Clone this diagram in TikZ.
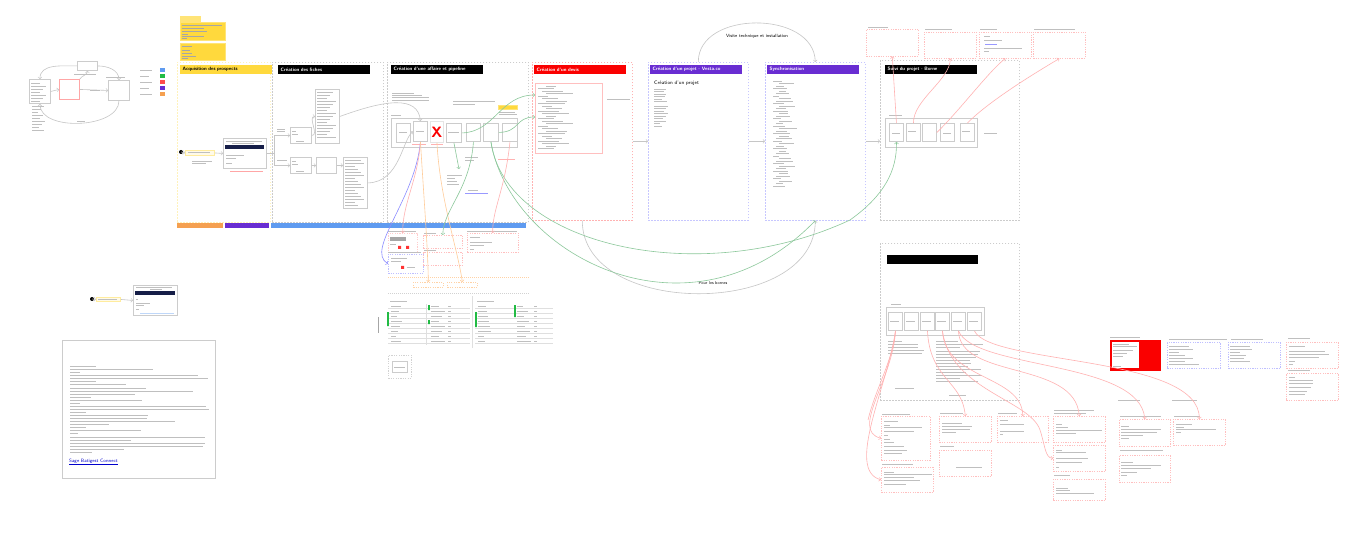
\documentclass[tikz,border=0pt]{standalone}
\usepackage{tikz}
\usetikzlibrary{positioning}

\definecolor{stickyY}{RGB}{255,217,61}
\definecolor{navy}{RGB}{22,30,72}
\definecolor{hdRed}{RGB}{250,0,0}
\definecolor{hdPurple}{RGB}{105,45,210}
\definecolor{barBlue}{RGB}{95,155,240}
\definecolor{barOrange}{RGB}{245,160,80}
\definecolor{barGreen}{RGB}{34,187,68}
\definecolor{lnGreen}{RGB}{140,200,155}

\tikzset{
  panel/.style={draw=gray!40, dash pattern=on 1.5pt off 1.5pt, line width=0.6pt, inner sep=0pt, anchor=north west},
  card/.style={draw=gray!40, line width=0.9pt, fill=white, inner sep=0pt, anchor=north west},
  pbox/.style={draw=red!25, dash pattern=on 1.2pt off 1.2pt, line width=0.6pt, inner sep=0pt, anchor=north west},
  bbox/.style={draw=blue!25, dash pattern=on 1.2pt off 1.2pt, line width=0.6pt, inner sep=0pt, anchor=north west},
  head/.style={anchor=north west, minimum height=9pt, text width=87pt, inner xsep=2.5pt, inner ysep=0pt,
    text=white, align=left, font=\fontsize{4.8}{5}\selectfont\sffamily\bfseries},
  txtline/.style={draw=gray!50, line width=0.8pt},
  link/.style={draw=gray!45, line width=0.6pt},
  gline/.style={draw=lnGreen, line width=0.6pt},
  rline/.style={draw=red!30, line width=0.6pt},
  sz/.style 2 args={minimum width=#1pt, minimum height=#2pt},
}
\newcommand{\tline}[3]{\draw[txtline] (#1,#2) -- ++(#3,0);}

\begin{document}
\begin{tikzpicture}[x=1pt,y=-1pt]
\useasboundingbox (0,0) rectangle (1347,556);
\fill[white] (0,0) rectangle (1347,556);

% mini flow top left
\node[card, sz={20}{9}] (mTop) at (77,61) {};
\node[card, sz={21}{24}] (mLeft) at (29,79) {};
\node[card, draw=red!35, sz={20}{20}] (mPink) at (59,79) {};
\node[card, sz={21}{20}] (mRight) at (108,80) {};
\draw[link,->] (mTop.west) to[out=180,in=90] (mLeft.north);
\draw[link,->] (mTop.east) to[out=0,in=90] (mRight.north);
\draw[link,->] (mPink.north east) to[out=60,in=-90] (mTop.south);
\draw[link,->] (mLeft.east) -- (mPink.west);
\draw[link,->] (mPink.east) -- (mRight.west);
\draw[link,->] (mRight.south) to[out=-90,in=-90,looseness=0.9] (mLeft.south);
\foreach \y in {83,86,...,101} {\tline{31}{\y}{{8+mod(\y*5,9)}}}
\foreach \y in {106,109,...,130} {\tline{32}{\y}{{6+mod(\y*7,8)}}}
\tline{74}{74}{22}
\tline{106}{77}{19}
\tline{90}{90}{10}
\tline{77}{121}{8}
% legend
\foreach \c [count=\i] in {barBlue,barGreen,red!70,hdPurple,barOrange}
  {\fill[\c] (160,{62+6*\i}) rectangle ++(4.5,4.5);
   \tline{140}{{64.5+6*\i}}{{9+mod(\i*3,6)}}}

% sticky notes
\node[card, draw=stickyY!70, fill=stickyY!70, sz={20}{5}] (nT) at (180,16) {};
\node[card, draw=stickyY!70, fill=stickyY, sz={45}{18}] (n1) at (180,22) {};
\node[card, draw=stickyY!70, fill=stickyY, sz={45}{17}] (n2) at (180,43) {};
\foreach \y/\l in {25/40,28/22,31/25,34/6,36/22,38/5} {\draw[gray!70, line width=0.5pt] (182,\y) -- ++(\l,0);}
\foreach \y/\l in {46/10,50/8,53/10,56/14,58/6} {\draw[gray!70, line width=0.5pt] (182,\y) -- ++(\l,0);}

% panels
\node[panel, draw=stickyY!35, sz={93}{160}] (pAcq) at (177,62) {};
\node[panel, sz={111}{160}] (pFiches) at (272,62) {};
\node[panel, sz={141}{160}] (pAffaire) at (387,62) {};
\node[panel, draw=red!30, sz={100}{158}] (pDevis) at (532,62) {};
\node[panel, draw=blue!22, sz={100}{158}] (pProjet) at (648,62) {};
\node[panel, draw=blue!22, sz={100}{158}] (pSync) at (765,62) {};
\node[panel, sz={139}{160}] (pSuivi) at (880,60) {};

\node[head, fill=stickyY, text=black] (hAcq) at (180,65) {Acquisition des prospects};
\node[head, fill=black] (hFiches) at (278,65) {Création des fiches};
\node[head, fill=black] (hAffaire) at (391,65) {Création d'une affaire et pipeline};
\node[head, fill=hdRed] (hDevis) at (534,65) {Création d'un devis};
\node[head, fill=hdPurple] (hProjet) at (650,65) {Création d'un projet - Vesta.co};
\node[head, fill=hdPurple] (hSync) at (767,65) {Synchronisation};
\node[head, fill=black] (hSuivi) at (885,65) {Suivi du projet - Borne};

% colour bars
\fill[barOrange] (177,223) rectangle (223,228);
\fill[hdPurple] (225,223) rectangle (269,228);
\fill[barBlue] (271,223) rectangle (526,228);

% acquisition
\fill (181,152) circle (2);
\node[card, draw=stickyY!50, fill=stickyY!12, sz={29}{5}] (lAcq) at (185,150) {};
\tline{188}{152.5}{22}
\tline{192}{161}{20}\tline{192}{163.5}{14}
\node[card, sz={43}{30}] (cAcq) at (223,138) {};
\fill[navy] (225,145) rectangle (264,149.5);
\tline{226}{141}{36}\tline{232}{143}{22}
\tline{226}{155}{18}\tline{226}{158}{10}\tline{226}{163}{6}
\draw[red!35, line width=0.8pt] (230,171) -- (263,171);
\draw[link,->] (181,152) -- (lAcq.west);
\draw[link,->] (lAcq.east) -- (cAcq.west);

% fiches
\node[card, sz={21}{16}] (f1) at (290,127) {};
\node[card, sz={21}{16}] (f2) at (290,157) {};
\node[card, sz={20}{16}] (f3) at (316,157) {};
\node[card, sz={24}{54}] (l1) at (315,89) {};
\node[card, sz={24}{51}] (l2) at (343,157) {};
\draw[link,->] (cAcq.east) -- ++(7,0) |- (f1.west);
\draw[link,->] (cAcq.east) -- ++(7,0) |- (f2.west);
\tline{277}{129}{8}\tline{277}{131}{8}\tline{277}{160}{10}
\draw[link,->] (f1.east) to[out=0,in=180] (l1.west);
\draw[link,->] (f2.east) -- (f3.west);
\draw[link,->] (f3.east) -- (f3.east -| l2.west);
\foreach \y in {92,95,...,138} {\tline{317}{\y}{{8+mod(\y*7,12)}}}
\foreach \y in {160,163,...,205} {\tline{345}{\y}{{8+mod(\y*5,12)}}}
\tline{292}{131}{4}\tline{292}{134}{6}\tline{296}{141}{8}
\tline{292}{161}{4}\tline{292}{164}{6}\tline{296}{171}{8}

% affaire et pipeline
\node[card, line width=1pt, sz={126}{29}] (pipe) at (391,118) {};
\node[card, sz={14}{19}] (a1) at (396,123) {};
\node[card, sz={14}{20}] (a2) at (413,121) {};
\node[card, draw=gray!20, sz={13}{21}] (aX) at (430,121) {};
\node[text=hdRed, font=\sffamily\bfseries\fontsize{15}{15}\selectfont] at (aX.center) {X};
\node[card, sz={15}{19}] (a4) at (446,123) {};
\node[card, sz={14}{18}] (a5) at (466,123) {};
\node[card, sz={15}{18}] (a6) at (483,123) {};
\node[card, sz={15}{18}] (a7) at (502,123) {};
\tline{399}{132}{8}\tline{416}{131}{8}\tline{448}{132}{11}
\tline{391}{115}{10}
\foreach \y/\l in {93/22,95/30,97/37,100/37} {\tline{392}{\y}{\l}}
\tline{453}{101}{42}\tline{453}{104}{22}
\node[card, draw=stickyY!70, fill=stickyY, sz={19}{3.5}] (tagA) at (498,105.5) {};
\tline{499}{112}{16}\tline{499}{114}{18}
\draw[red!30, line width=0.8pt] (412,144) -- (426,144) (431,144) -- (443,144) (498,159) -- (515,159);
\tline{447}{175}{15}\tline{447}{178}{8}\tline{447}{181}{10}\tline{447}{184}{12}
\tline{465}{157}{13}\tline{465}{160}{9}
\draw[blue!40, line width=0.9pt] (465,193) -- (488,193);
\tline{468}{190}{10}
\draw[link,->] (l1.east) .. controls (385,100) and (418,95) .. (a2.north);
\draw[link,->] (l2.east) .. controls (400,182) and (402,140) .. (a2.west);
\draw[gline,->] (a4.south) -- (459,169);

% devis
\node[card, draw=red!25, sz={67}{70}] (dv) at (535,83) {};
\foreach \y in {86,88.5,...,149} {\tline{{538+mod(\y*4,3)*4}}{\y}{{10+mod(\y*11,22)}}}
\tline{607}{99}{23}
\coordinate (dvIn1) at (535,95);
\coordinate (dvIn2) at (535,117);
\draw[gline,->] (a4.east) .. controls (495,132) and (500,95) .. (dvIn1);
\draw[gline,->] (a6.east) .. controls (520,132) and (515,117) .. (dvIn2);

% projet
\node[anchor=west, inner sep=0pt, font=\fontsize{5}{5}\selectfont\sffamily] (tProjet) at (654,83) {Création d'un projet};
\foreach \y/\l in {89/12,91.5/10,94/12,96.5/11,99/8,101.5/13,106/14,108.5/12,111/10,113.5/14,116/12,118.5/9,121/12,123.5/6,126/8}
  {\tline{654}{\y}{\l}}

% synchronisation
\foreach \y in {81,83.5,...,187} {\tline{{773+mod(\y*2,3)*3}}{\y}{{6+mod(\y*7,12)}}}

% panel links
\draw[link,->] (pDevis.east) -- (pProjet.west);
\draw[link,->] (pProjet.east) -- (pSync.west);
\draw[link,->] (pSync.east) -- (pSuivi.west |- pSync.east);
\draw[link,->] (pProjet.north) .. controls (698,10) and (814,10) .. (pSync.north);
\node[font=\fontsize{4.6}{5}\selectfont\sffamily] (tVisite) at (757,36) {Visite technique et installation};
\draw[link,->] (pDevis.south) .. controls (582,318) and (815,318) .. (pSync.south);
\node[font=\fontsize{4.2}{5}\selectfont\sffamily] (tBornes) at (713,283) {Pour les bornes};

% suivi borne
\node[card, line width=1pt, sz={92}{29}] (pipeS) at (885,118) {};
\foreach \n/\x in {b1/889,b2/906,b3/922,b4/940,b5/960}
  {\node[card, sz={14}{18}] (\n) at (\x,123) {};}
\tline{892}{133}{8}\tline{908}{131}{8}\tline{943}{133}{8}\tline{962}{131}{8}
\tline{889}{115}{13}\tline{984}{133}{13}
\node[pbox, sz={52}{27}] (t1) at (866,29) {};
\node[pbox, sz={52}{26}] (t2) at (924,32) {};
\node[pbox, sz={52}{26}] (t3) at (979,32) {};
\node[pbox, sz={52}{26}] (t4) at (1033,32) {};
\tline{868}{27}{20}\tline{925}{29}{27}\tline{980}{29}{17}\tline{1034}{29}{41}
\tline{984}{36}{6}\tline{984}{40}{18}\tline{984}{48}{38}\tline{984}{51}{5}
\draw[blue!40, line width=0.8pt] (985,44) -- (997,44);
\draw[rline,->] (b1.north) -- (t1.south);
\draw[rline,->] (b2.north) .. controls (913,100) and (950,80) .. (t2.south);
\draw[rline,->] (b3.east) .. controls (960,110) and (990,70) .. (t3.south);
\draw[rline,->] (b5.north) .. controls (990,100) and (1040,70) .. (t4.south);
\draw[gline,->] (a6.south) .. controls (505,245) and (700,290) .. (850,220) .. controls (885,195) and (897,170) .. (b1.south);
\draw[gline,->] (a6.south) .. controls (510,255) and (690,350) .. (pSync.south);

% lower middle
\node[pbox, draw=red!20, sz={29}{19}] (mb1) at (388,233) {};
\node[bbox, sz={35}{19}] (mb2) at (388,254) {};
\node[pbox, sz={39}{13}] (mb3) at (423,235) {};
\node[pbox, sz={39}{13}] (mb4) at (423,252) {};
\node[pbox, sz={51}{19}] (mb5) at (467,233) {};
\fill[gray!70] (390,237) rectangle (406,241);
\fill[red!80] (398,246) rectangle ++(3,3) (406,246) rectangle ++(3,3) (401,266) rectangle ++(3,3);
\tline{390}{244}{6}\tline{391}{258}{16}\tline{391}{261}{10}\tline{407}{267}{8}
\tline{388}{231}{28}\tline{388}{252.5}{33}\tline{424}{233}{12}\tline{424}{250}{12}
\tline{470}{237}{10}\tline{470}{242}{22}\tline{470}{245}{14}\tline{470}{249}{4}\tline{467}{231}{50}
\draw[orange!35, dash pattern=on 1pt off 1pt] (388,277) -- (530,277);
\node[pbox, draw=orange!35, sz={30}{5}] (o1) at (413,282) {};
\node[pbox, draw=orange!35, sz={30}{5}] (o2) at (447,282) {};
\draw[gray!35, dash pattern=on 1pt off 1pt] (388,293) -- (530,293);
\draw[blue!45, line width=0.6pt,->] (a2.south) .. controls (415,200) and (365,250) .. (mb2.west);
\draw[rline,->] (a2.south) .. controls (418,180) and (402,205) .. (mb1.north);
\draw[draw=orange!40, line width=0.6pt,->] (a2.south) .. controls (424,200) and (428,250) .. (o1.north);
\draw[draw=orange!40, line width=0.6pt,->] (aX.south) .. controls (440,200) and (458,250) .. (o2.north);
\draw[gline,->] (a5.south) .. controls (470,190) and (443,210) .. (mb3.north);
\draw[rline,->] (a7.south) .. controls (505,190) and (492,210) .. (mb5.north);

% tables
\tline{390}{301}{17}\tline{477}{301}{17}
\foreach \y in {308,313,...,343} {\draw[gray!25, line width=0.4pt] (388,\y) -- (470,\y); \draw[gray!25, line width=0.4pt] (475,\y) -- (553,\y);}
\draw[gray!25, line width=0.4pt] (426,304) -- (426,345) (472,296) -- (472,348);
\foreach \y in {306,311,...,341} {\tline{391}{\y}{{5+mod(\y,7)}}\tline{431}{\y}{{8+mod(\y*3,9)}}\tline{448}{\y}{3}
  \tline{478}{\y}{{6+mod(\y*5,8)}}\tline{517}{\y}{{6+mod(\y,9)}}\tline{534}{\y}{3}}
\fill[barGreen] (387,312) rectangle (388.8,326) (428,305) rectangle (429.8,310) (428,320) rectangle (429.8,324)
  (475,312) rectangle (476.8,327) (514,305) rectangle (515.8,317);
\draw[gray!70, line width=0.7pt] (378,317) -- (378,333);
\node[pbox, draw=gray!35, sz={23}{23}] (sq) at (388,355) {};
\node[card, sz={15}{11}] (sqIn) at (392,361) {};
\tline{394}{367}{11}

% lower left
\fill (92,299) circle (2);
\node[card, draw=stickyY!50, fill=stickyY!12, sz={24}{4}] (lSage) at (96,297) {};
\tline{98}{299}{19}
\node[card, sz={44}{30}] (cSage) at (133,285) {};
\fill[navy] (135,291) rectangle (175,295);
\tline{136}{287}{36}\tline{150}{289}{12}\tline{136}{299}{2}\tline{136}{303}{14}\tline{136}{305}{8}\tline{136}{309}{3}
\draw[barBlue!40, line width=0.8pt] (140,313) -- (174,313);
\draw[link,->] (92,299) -- (lSage.west);
\draw[link,->] (lSage.east) -- (cSage.west);
\node[card, sz={153}{138}] (big) at (62,340) {};
\foreach \y/\l in {366/26,369/83,372/10,375/128,378/138,381/26,384/56,388/76,391/123,394/65,397/21,400/72,403/10,406/136,409/139,412/16,415/78,418/77,421/105,424/39,427/16,430/71,433/8,437/135,440/61,443/135,446/133,449/54,452/22}
  {\tline{70}{\y}{\l}}
\node[anchor=west, inner sep=0pt, text=blue!80!black, font=\fontsize{4.8}{5}\selectfont\sffamily] (tSage) at (69,462) {\underline{Sage Batigest Connect}};

% borne lower panel
\node[panel, sz={139}{157}] (pBorne) at (880,243) {};
\node[head, fill=black, text width=86pt] (hBorne) at (887,254.5) {};
\node[card, line width=1pt, sz={98}{28}] (pipeB) at (886,307) {};
\foreach \n/\x in {c1/888,c2/904,c3/920,c4/935,c5/951,c6/967}
  {\node[card, sz={14}{18}] (\n) at (\x,312) {};
   \tline{\x+2}{321}{9}}
\tline{891}{304}{10}
\foreach \y/\l in {341/14,344/30,347/30,350/36,353/34} {\tline{888}{\y}{\l}}
\foreach \y/\l in {341/22,344/47,347/24,351/44,354/42,357/40,360/34,363/35,366/32,369/45,372/30,375/46,378/24,381/42}
  {\tline{936}{\y}{\l}}
\tline{895}{388}{19}\tline{949}{395}{17}

% lower boxes
\node[pbox, sz={49}{44}] (L1) at (881,416) {};
\node[pbox, sz={52}{25}] (L2) at (881,467) {};
\node[pbox, sz={52}{26}] (L3) at (939,416) {};
\node[pbox, sz={52}{26}] (L4) at (939,450) {};
\node[pbox, sz={51}{26}] (L5) at (997,416) {};
\node[pbox, sz={52}{26}] (L6) at (1053,416) {};
\node[pbox, sz={52}{26}] (L7) at (1053,445) {};
\node[pbox, sz={52}{21}] (L8) at (1053,479) {};
\node[pbox, sz={51}{27}] (L9) at (1119,419) {};
\node[pbox, sz={51}{27}] (L10) at (1119,455) {};
\node[pbox, sz={52}{26}] (L11) at (1173,419) {};
\foreach \x/\y/\l in {882/414/28,882/464/31,940/413/23,940/446/14,998/413/19,1054/410/40,1054/413/32,1054/475/16,1120/416/41,1120/450/43,1174/416/26}
  {\tline{\x}{\y}{\l}}
\foreach \y/\l in {421/14,425/6,427/38,431/30,435/4,439/6,442/10,446/20,450/23,453/18} {\tline{884}{\y}{\l}}
\foreach \y/\l in {472/10,474/48,477/30,480/36,484/22} {\tline{884}{\y}{\l}}
\foreach \y/\l in {423/20,426/30,429/28,432/14} {\tline{942}{\y}{\l}}
\tline{956}{467}{26}
\foreach \y/\l in {420/8,424/24,431/24,434/3} {\tline{1000}{\y}{\l}}
\foreach \y/\l in {424/6,427/12,430/46,433/20} {\tline{1056}{\y}{\l}}
\foreach \y/\l in {450/6,452/30,458/32,462/26,467/3} {\tline{1056}{\y}{\l}}
\foreach \y/\l in {488/12,490/14,493/38} {\tline{1056}{\y}{\l}}
\foreach \y/\l in {426/8,429/40,432/36,435/22,438/8} {\tline{1121}{\y}{\l}}
\foreach \y/\l in {462/12,465/40,468/30,472/16,475/6} {\tline{1121}{\y}{\l}}
\foreach \y/\l in {424/16,427/8,429/40,432/5} {\tline{1176}{\y}{\l}}

% right boxes
\node[card, draw=hdRed, fill=hdRed, line width=0.6pt, sz={50}{30}] (R1) at (1110,340) {};
\fill[white] (1112,342) rectangle (1139,368);
\node[bbox, sz={53}{26}] (R2) at (1167,342) {};
\node[bbox, sz={52}{26}] (R3) at (1228,342) {};
\node[pbox, sz={52}{26}] (R4) at (1286,342) {};
\node[pbox, sz={52}{27}] (R5) at (1286,373) {};
\foreach \x/\y/\l in {1110/337/30,1169/339/58,1231/339/32,1288/338/22,1288/370/22} {\tline{\x}{\y}{\l}}
\foreach \y/\l in {344/16,346/24,350/20,353/14,356/10,366/8} {\tline{1113}{\y}{\l}}
\foreach \y/\l in {346/20,349/24,352/10,355/16,358/24,361/16,364/30} {\tline{1169}{\y}{\l}}
\foreach \y/\l in {346/20,349/22,352/10,355/16,358/14,361/20} {\tline{1230}{\y}{\l}}
\foreach \y/\l in {346/16,351/36,354/40,357/30,361/6,364/4} {\tline{1289}{\y}{\l}}
\foreach \y/\l in {377/6,380/24,383/24,387/22,391/18,394/16} {\tline{1289}{\y}{\l}}
\tline{1118}{400}{22}\tline{1172}{400}{25}

% red connectors from the borne boxes
\draw[rline,->] (c1.south) .. controls (893,380) and (850,430) .. (L1.west);
\draw[rline,->] (c1.south) .. controls (888,385) and (845,470) .. (L2.west);
\draw[rline] (c1.south) .. controls (893,360) and (875,390) .. (868,420);
\draw[rline,->] (c3.south) .. controls (930,380) and (962,380) .. (L3.north);
\draw[rline,->] (c4.south) .. controls (945,380) and (1022,375) .. (L5.north);
\draw[rline,->] (c4.south) .. controls (950,390) and (1030,400) .. (1040,430) .. controls (1045,445) and (1045,458) .. (L7.west);
\draw[rline,->] (c5.south) .. controls (960,380) and (1075,360) .. (L6.north);
\draw[rline,->] (c5.south) .. controls (975,370) and (1140,360) .. (L9.north);
\draw[rline,->] (c6.south) .. controls (990,365) and (1200,355) .. (L11.north);
\end{tikzpicture}
\end{document}
